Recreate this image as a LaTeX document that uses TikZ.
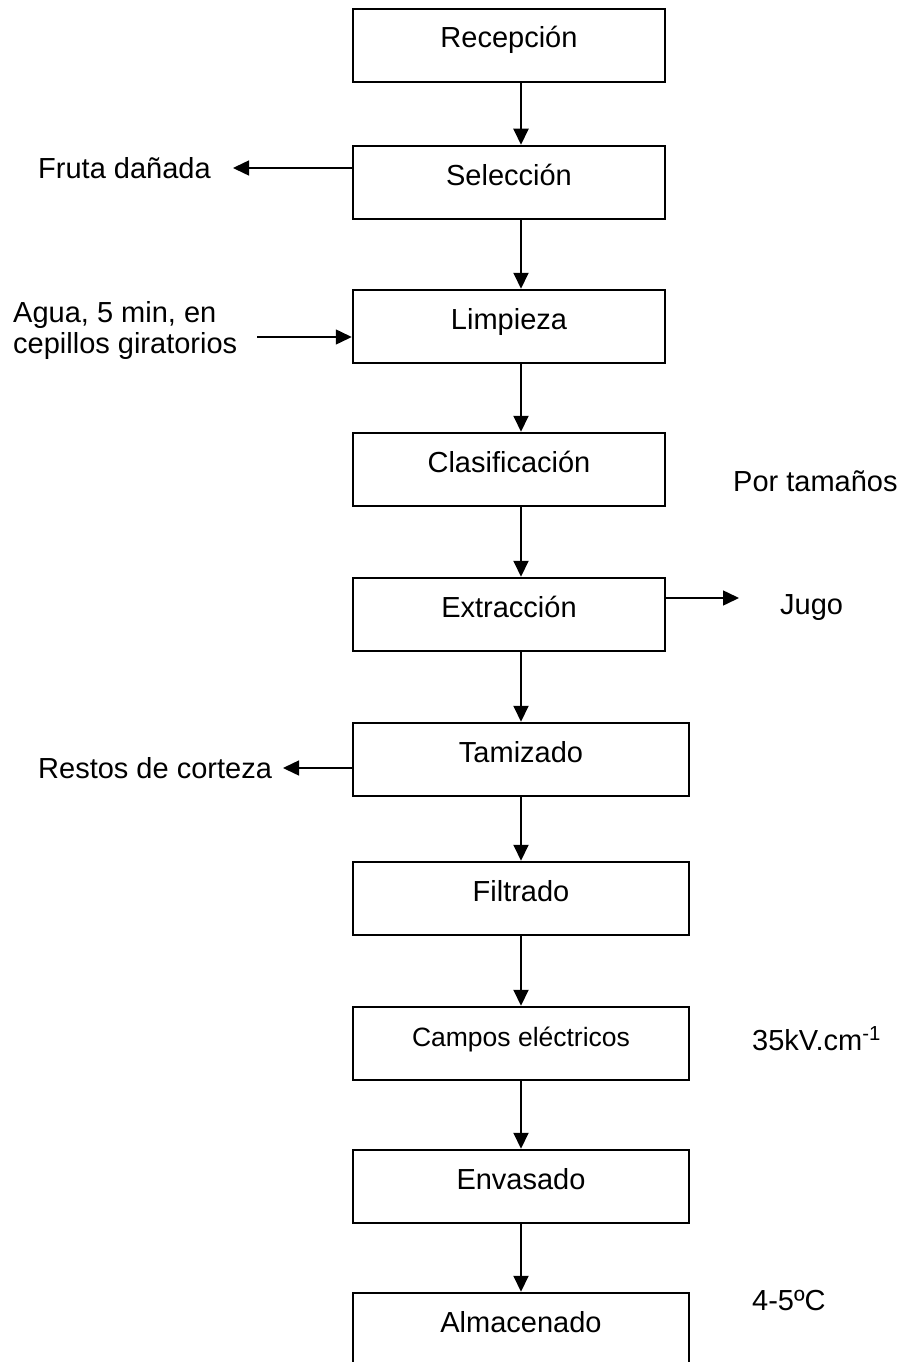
\documentclass[tikz,border=0pt]{standalone}
\usepackage{fontspec}
\setmainfont{Liberation Sans}
\usetikzlibrary{arrows.meta}
\begin{document}
\begin{tikzpicture}[x=1pt,y=-1pt,
  stepbox/.style={draw=black,line width=2.5pt,inner sep=0pt,text height=39pt,text depth=34pt,anchor=base,font=\fontsize{29}{31}\selectfont},
  narrowbox/.style={stepbox,minimum width=312pt},
  widebox/.style={stepbox,minimum width=336pt},
  lbl/.style={inner sep=0pt,font=\fontsize{29}{31}\selectfont},
  arr/.style={line width=2pt,-{Triangle[length=16pt,width=15pt]}},
  sidearr/.style={line width=1.5pt,-{Triangle[length=16pt,width=15pt]}}]
\useasboundingbox (0,0) rectangle (913,1362);
\coordinate (col) at (521,0);
% boxes
\node[narrowbox] (rec) at (509,48) {Recepción};
\node[narrowbox] (sel) at (509,185) {Selección};
\node[narrowbox] (lim) at (509,329) {Limpieza};
\node[narrowbox] (cla) at (509,472) {Clasificación};
\node[narrowbox] (ext) at (509,617) {Extracción};
\node[widebox] (tam) at (521,762) {Tamizado};
\node[widebox] (fil) at (521,901) {Filtrado};
\node[widebox,font=\fontsize{26.5}{30}\selectfont] (cam) at (521,1046) {Campos eléctricos};
\node[widebox] (env) at (521,1189) {Envasado};
\node[widebox] (alm) at (521,1332) {Almacenado};
% main arrows
\draw[arr] (rec.south -| col) -- (sel.north -| col);
\draw[arr] (sel.south -| col) -- (lim.north -| col);
\draw[arr] (lim.south -| col) -- (cla.north -| col);
\draw[arr] (cla.south -| col) -- (ext.north -| col);
\draw[arr] (ext.south -| col) -- (tam.north -| col);
\draw[arr] (tam.south -| col) -- (fil.north -| col);
\draw[arr] (fil.south -| col) -- (cam.north -| col);
\draw[arr] (cam.south -| col) -- (env.north -| col);
\draw[arr] (env.south -| col) -- (alm.north -| col);
% side labels
\node[lbl,anchor=base west] (fru) at (38,178) {Fruta dañada};
\node[lbl,anchor=base west,align=left] (agu) at (13,353) {Agua, 5 min, en\\cepillos giratorios};
\node[lbl,anchor=base west] (por) at (733,491) {Por tamaños};
\node[lbl,anchor=base west] (jug) at (780,614) {Jugo};
\node[lbl,anchor=base west] (res) at (38,778) {Restos de corteza};
\node[lbl,anchor=base west] (kv) at (752,1050) {35kV.cm\textsuperscript{-1}};
\node[lbl,anchor=base west] (tem) at (752,1310) {4-5ºC};
% side arrows
\coordinate (frtip) at (233,168);
\coordinate (agst) at (257,337);
\coordinate (jtip) at (739,598);
\coordinate (rtip) at (283,768);
\draw[sidearr] (sel.west |- frtip) -- (frtip);
\draw[sidearr] (agst) -- (lim.west |- agst);
\draw[sidearr] (ext.east |- jtip) -- (jtip);
\draw[sidearr] (tam.west |- rtip) -- (rtip);
\end{tikzpicture}
\end{document}
